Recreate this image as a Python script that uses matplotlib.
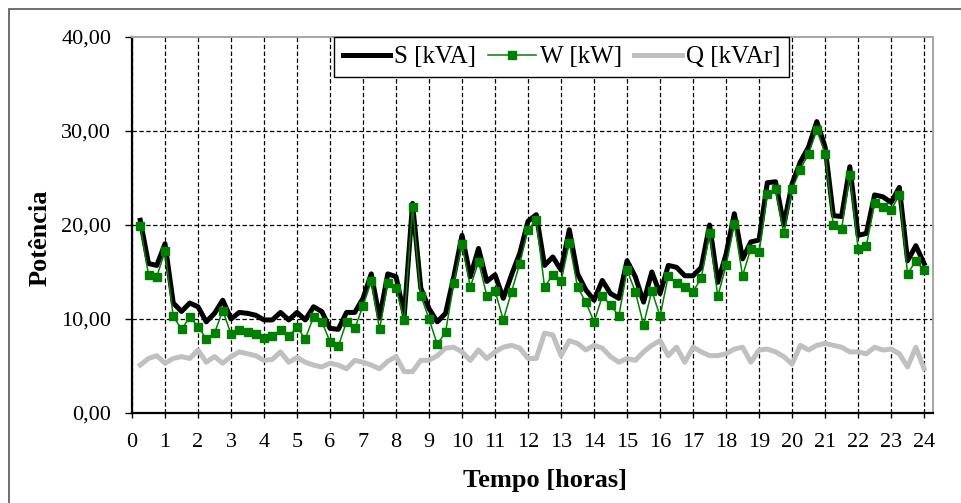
import matplotlib
matplotlib.use("Agg")
import matplotlib.pyplot as plt
import numpy as np
from matplotlib.patches import Rectangle

# ---------------------------------------------------------------------------
# Data (15-min readings, hours 0.25 .. 24)
# ---------------------------------------------------------------------------
hours = np.arange(1, 97) * 0.25

s_kva = [
    20.5, 15.9, 15.7, 18.0, 11.7, 10.8, 11.7, 11.3, 9.7, 10.6, 12.0, 10.0,
    10.7, 10.6, 10.4, 9.9, 9.9, 10.7, 9.9, 10.7, 9.9, 11.3, 10.8, 9.0,
    8.9, 10.7, 10.7, 12.2, 14.8, 10.1, 14.8, 14.5, 10.4, 22.3, 13.3, 11.1,
    9.7, 10.6, 14.5, 18.9, 14.5, 17.5, 14.0, 14.7, 12.2, 14.7, 17.0, 20.4,
    21.1, 15.7, 16.6, 15.2, 19.5, 14.8, 13.1, 12.0, 14.1, 12.7, 12.2, 16.2,
    14.5, 11.8, 15.0, 12.7, 15.7, 15.5, 14.6, 14.6, 15.5, 20.0, 13.9, 16.9,
    21.2, 16.4, 18.2, 18.4, 24.5, 24.6, 20.0, 24.4, 26.7, 28.3, 31.0, 28.3,
    21.0, 20.9, 26.2, 18.9, 19.1, 23.2, 23.0, 22.4, 24.0, 16.2, 17.8, 15.9,
]

w_kw = [
    19.9, 14.7, 14.5, 17.2, 10.3, 8.9, 10.2, 9.2, 7.9, 8.5, 10.9, 8.4,
    8.8, 8.6, 8.4, 8.0, 8.2, 8.8, 8.2, 9.1, 7.9, 10.2, 9.7, 7.6,
    7.1, 9.7, 9.0, 11.4, 14.0, 8.9, 13.8, 13.3, 9.9, 21.9, 12.5, 10.0,
    7.3, 8.6, 13.8, 18.0, 13.4, 16.1, 12.5, 13.0, 9.9, 12.9, 15.9, 19.5,
    20.5, 13.4, 14.7, 14.0, 18.1, 13.4, 11.8, 9.7, 12.4, 11.5, 10.3, 15.2,
    12.9, 9.4, 13.0, 10.3, 14.6, 13.8, 13.4, 12.9, 14.4, 19.1, 12.4, 15.7,
    20.1, 14.6, 17.5, 17.1, 23.3, 23.8, 19.1, 23.8, 25.9, 27.6, 30.1, 27.6,
    20.0, 19.6, 25.3, 17.5, 17.8, 22.3, 21.9, 21.6, 23.2, 14.8, 16.2, 15.2,
]

q_kvar = [
    5.1, 5.8, 6.1, 5.3, 5.8, 6.0, 5.8, 6.7, 5.4, 6.0, 5.3, 6.0,
    6.5, 6.3, 6.1, 5.6, 5.7, 6.5, 5.4, 5.9, 5.4, 5.1, 4.9, 5.3,
    5.1, 4.7, 5.6, 5.4, 5.1, 4.7, 5.5, 6.0, 4.4, 4.4, 5.6, 5.6,
    6.1, 6.9, 7.0, 6.5, 5.6, 6.7, 5.8, 6.5, 7.0, 7.2, 6.9, 5.8,
    5.8, 8.5, 8.3, 6.1, 7.7, 7.4, 6.7, 7.2, 6.9, 6.0, 5.4, 5.8,
    5.6, 6.5, 7.2, 7.7, 6.1, 7.0, 5.4, 7.0, 6.5, 6.1, 6.1, 6.3,
    6.8, 7.0, 5.4, 6.7, 6.8, 6.5, 6.0, 5.2, 7.2, 6.7, 7.2, 7.4,
    7.2, 7.0, 6.5, 6.5, 6.3, 7.0, 6.7, 6.8, 6.3, 4.9, 7.0, 4.7,
]

x_ticks = list(range(0, 25))
y_ticks = [0, 10, 20, 30, 40]
y_ticklabels = ["0,00", "10,00", "20,00", "30,00", "40,00"]

# ---------------------------------------------------------------------------
# Figure
# ---------------------------------------------------------------------------
plt.rcParams["font.family"] = ["Liberation Serif", "DejaVu Serif"]

W_PX, H_PX = 962, 503
fig = plt.figure(figsize=(W_PX / 100, H_PX / 100), dpi=100)
ax = fig.add_axes([132 / W_PX, 1 - 413 / H_PX, (933 - 132) / W_PX, (413 - 37) / H_PX])

# outer frame (runs off right and bottom edge)
fig.patches.append(Rectangle((9 / W_PX, -0.1), 1.2, 1.1 - 9 / H_PX,
                             transform=fig.transFigure, fill=False,
                             ec="#555555", lw=1.2))

ax.plot(hours, s_kva, color="black", lw=3.6, solid_joinstyle="round",
        label="S [kVA]", zorder=3)
ax.plot(hours, w_kw, color="#008000", lw=1.1, marker="s", ms=5.2,
        label="W [kW]", zorder=4)
ax.plot(hours, q_kvar, color="#c0c0c0", lw=3.6, solid_joinstyle="round",
        label="Q [kVAr]", zorder=3)

ax.set_xlim(0, 24.27)
ax.set_ylim(0, 40)
ax.set_xticks(x_ticks)
ax.set_xticklabels([str(t) for t in x_ticks])
ax.set_yticks(y_ticks)
ax.set_yticklabels(y_ticklabels)

ax.set_axisbelow(True)
ax.grid(True, color="black", lw=0.9, linestyle=(0, (3.5, 2)))
ax.yaxis.get_gridlines()[-1].set_visible(False)

for side in ("left", "bottom"):
    ax.spines[side].set_color("black")
    ax.spines[side].set_linewidth(1.6)
for side in ("top", "right"):
    ax.spines[side].set_color("#a6a6a6")
    ax.spines[side].set_linewidth(1.4)

ax.tick_params(axis="x", direction="out", length=3.6, width=1, pad=11,
               labelsize=16)
ax.tick_params(axis="y", direction="out", length=5, width=1, pad=10,
               labelsize=16)

ax.set_xlabel("Tempo [horas]", fontsize=19, fontweight="bold")
ax.xaxis.set_label_coords(0.516, -0.15)
ax.set_ylabel("Potência", fontsize=19, fontweight="bold")
ax.yaxis.set_label_coords(-0.1, 0.465)

leg = ax.legend(loc="upper center", bbox_to_anchor=(0.536, 1.0), ncol=3,
                fontsize=18, frameon=True, fancybox=False, framealpha=1,
                edgecolor="black", borderaxespad=0, borderpad=0.35,
                handlelength=1.9, handletextpad=0.15, columnspacing=0.5,
                numpoints=1)
leg.get_frame().set_linewidth(1.0)
leg.set_zorder(10)

fig.savefig("out.png", dpi=100)
